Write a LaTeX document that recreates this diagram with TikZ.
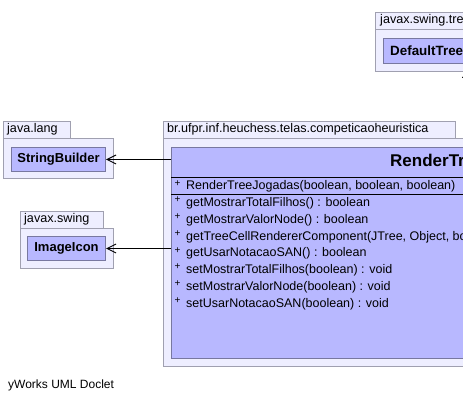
\documentclass[tikz,border=0pt]{standalone}
\usepackage{fontspec}
\setmainfont{Liberation Sans}
\usetikzlibrary{arrows.meta}
\definecolor{pkgfill}{RGB}{238,238,255}
\definecolor{pkgdraw}{RGB}{160,160,176}
\definecolor{clsfill}{RGB}{184,184,255}
\definecolor{clsdraw}{RGB}{120,120,160}
\begin{document}
\begin{tikzpicture}[x=1pt,y=-1pt,
  pkgtab/.style={draw=pkgdraw,fill=pkgfill,line width=1pt,anchor=north west,inner sep=0pt},
  pkgbody/.style={draw=pkgdraw,fill=pkgfill,line width=1pt,anchor=north west,inner sep=0pt},
  pkglabel/.style={anchor=west,inner sep=0pt,font=\fontsize{12.6}{14}\selectfont},
  clsbox/.style={draw=clsdraw,fill=clsfill,line width=1pt,anchor=north west,inner sep=0pt,
     font=\fontsize{13}{15}\selectfont\bfseries},
  member/.style={anchor=west,inner sep=0pt,font=\fontsize{12.5}{14}\selectfont},
  plus/.style={anchor=west,inner sep=0pt,font=\fontsize{10}{11}\selectfont},
  dep/.style={draw=black,line width=1pt,-{Straight Barb[length=9pt,width=9pt]}},
  gen/.style={draw=black,line width=1pt,-{Triangle[open,length=15pt,width=20pt,fill=white]}}
]
\useasboundingbox (0,0) rectangle (463,403);
\clip (0,0) rectangle (463,403);
\fill[white] (0,0) rectangle (463,403);

% top right package
\node[pkgtab,minimum width=100pt,minimum height=17pt] (ptab4) at (375,12) {};
\node[pkgbody,minimum width=200pt,minimum height=42pt] (pbody4) at (375,29) {};
\node[pkglabel] (plab4) at (380,20.5) {javax.swing.tree};
\node[clsbox,minimum width=180pt,minimum height=25pt] (dt) at (383,38) {};
\node[anchor=west,inner sep=0pt,font=\fontsize{13.4}{15}\selectfont\bfseries] (dtl) at (390,50.5) {DefaultTreeCellRenderer};

% java.lang package
\node[pkgtab,minimum width=67pt,minimum height=17pt] (ptab1) at (3,121) {};
\node[pkgbody,minimum width=110pt,minimum height=40pt] (pbody1) at (3,138) {};
\node[pkglabel] (plab1) at (7,129.5) {java.lang};
\node[clsbox,minimum width=94pt,minimum height=24pt] (sb) at (11,147) {StringBuilder};

% javax.swing package
\node[pkgtab,minimum width=83pt,minimum height=17pt] (ptab2) at (20,211) {};
\node[pkgbody,minimum width=93pt,minimum height=40pt] (pbody2) at (20,228) {};
\node[pkglabel] (plab2) at (24,219.5) {javax.swing};
\node[clsbox,minimum width=78pt,minimum height=24pt] (ii) at (27,236) {ImageIcon};

% main package
\node[pkgtab,minimum width=292pt,minimum height=17pt] (ptab3) at (163,121) {};
\node[pkgbody,minimum width=380pt,minimum height=228pt] (pbody3) at (163,138) {};
\node[pkglabel] (plab3) at (167,129.5) {br.ufpr.inf.heuchess.telas.competicaoheuristica};

% class
\node[clsbox,minimum width=360pt,minimum height=211pt] (rt) at (171,147) {};
\draw[black,line width=1pt] ([yshift=-31pt]rt.north west) -- ([yshift=-31pt]rt.north east);
\draw[black,line width=1pt] ([yshift=-48pt]rt.north west) -- ([yshift=-48pt]rt.north east);
\node[anchor=west,inner sep=0pt,font=\fontsize{17}{20}\selectfont\bfseries] (title) at (390,162.5) {RenderTreeJogadas};

\node[plus] (p0) at (174.5,183.5) {+};
\node[member] (m0) at (186,186.5) {RenderTreeJogadas(boolean, boolean, boolean)};
\foreach \y/\t [count=\i] in {
  203/{getMostrarTotalFilhos() : boolean},
  220/{getMostrarValorNode() : boolean},
  237/{getTreeCellRendererComponent(JTree, Object, boolean, boolean, boolean, int, boolean) : Component},
  253.5/{getUsarNotacaoSAN() : boolean},
  270/{setMostrarTotalFilhos(boolean) : void},
  287/{setMostrarValorNode(boolean) : void},
  304/{setUsarNotacaoSAN(boolean) : void}} {
  \node[plus] (p\i) at (174.5,\y-3) {+};
  \node[member] (m\i) at (186,\y) {\t};
}

% connectors
\draw[dep] (rt.west |- sb.east) -- (sb.east);
\draw[dep] (rt.west |- ii.east) -- (ii.east);
\coordinate (gtip) at (472,63);
\draw[gen] (gtip |- rt.north) -- (gtip);

\node[anchor=west,inner sep=0pt,font=\fontsize{12}{14}\selectfont] (yw) at (8,385) {yWorks UML Doclet};
\end{tikzpicture}
\end{document}
